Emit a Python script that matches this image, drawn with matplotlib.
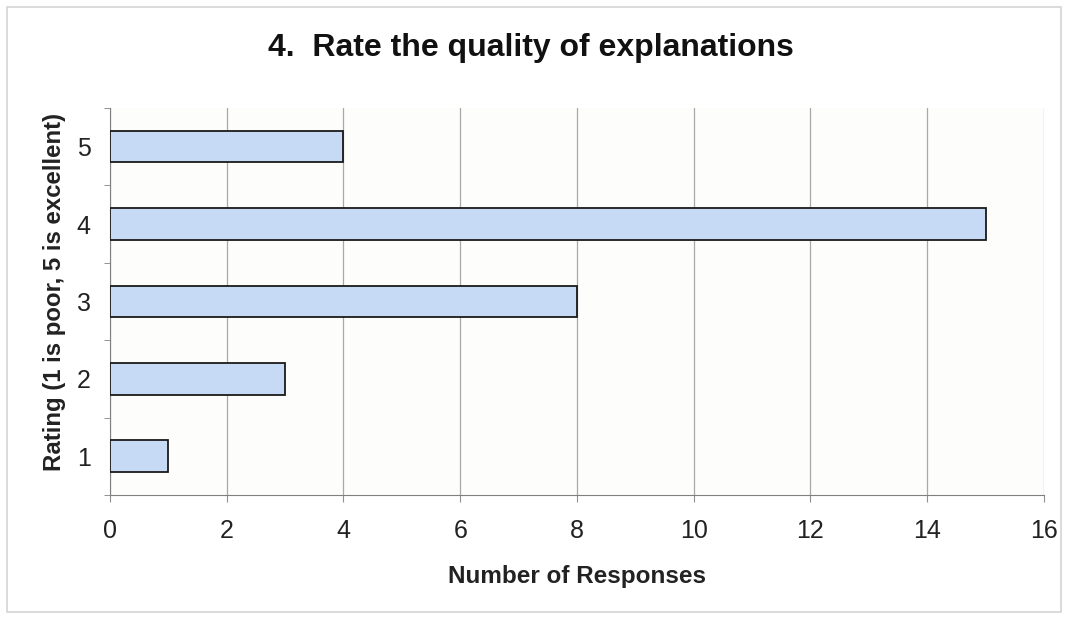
import matplotlib
matplotlib.use("Agg")
import matplotlib.pyplot as plt
from matplotlib.patches import Rectangle

plt.rcParams['font.family'] = ['Liberation Sans', 'DejaVu Sans']

ratings = ["1", "2", "3", "4", "5"]
responses = [1, 3, 8, 15, 4]
x_ticks = [0, 2, 4, 6, 8, 10, 12, 14, 16]

title = "4.  Rate the quality of explanations"
x_label = "Number of Responses"
y_label = "Rating (1 is poor, 5 is excellent)"

fig = plt.figure(figsize=(10.68, 6.2), dpi=100)
fig.patch.set_facecolor("white")
fig.add_artist(Rectangle((0.007, 0.013), 0.986, 0.975, transform=fig.transFigure,
                         fill=False, edgecolor="#d4d4d4", linewidth=1.2))

ax = fig.add_axes([0.103, 0.2016, 0.8745, 0.6244])
ax.set_facecolor("#fdfdfb")

pos = list(range(len(ratings)))
ax.barh(pos, responses, height=0.41, color="#c6d9f5", edgecolor="#1a1a1a",
        linewidth=1.3, zorder=3)

ax.set_xlim(0, 16)
ax.set_ylim(-0.5, len(ratings) - 0.5)
ax.set_xticks(x_ticks)
ax.set_xticklabels([str(t) for t in x_ticks], fontsize=18, color="#222222")
ax.set_yticks(pos)
ax.set_yticklabels(ratings, fontsize=18, color="#222222")
ax.set_yticks([p - 0.5 for p in pos] + [len(ratings) - 0.5], minor=True)
ax.tick_params(axis="y", which="major", length=0, pad=14)
ax.tick_params(axis="y", which="minor", length=4, color="#808080", direction="out")
ax.tick_params(axis="x", which="major", length=5, color="#909090", pad=12)

ax.grid(axis="x", color="#a8a8a8", linewidth=0.9, zorder=0)
for side in ["top", "right"]:
    ax.spines[side].set_visible(False)
ax.spines["left"].set_color("#808080")
ax.spines["bottom"].set_color("#808080")

ax.set_xlabel(x_label, fontsize=17.5, fontweight="bold", labelpad=16, color="#222222")
ax.set_ylabel(y_label, fontsize=17.3, fontweight="bold", labelpad=10, color="#222222")
ax.yaxis.set_label_coords(-0.047, 0.525)
fig.text(0.497, 0.922, title, ha="center", va="center", fontsize=23, fontweight="bold",
         color="#111111")

fig.savefig("out.png", dpi=100)
